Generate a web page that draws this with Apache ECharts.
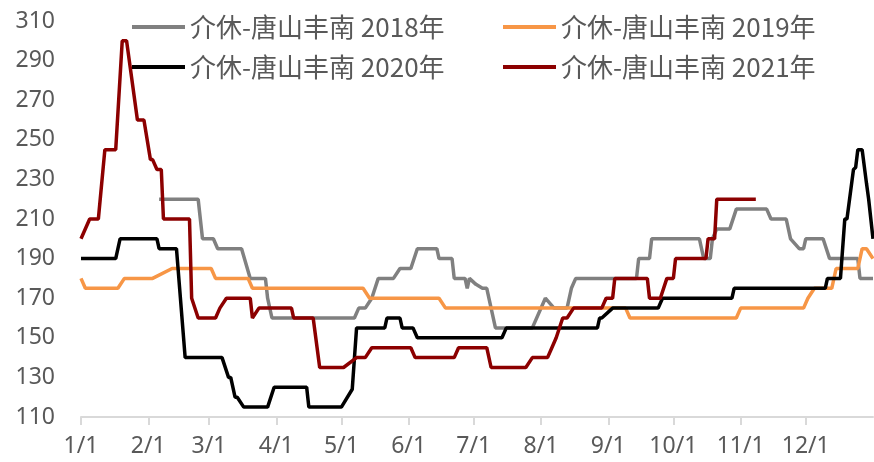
<!DOCTYPE html>
<html>
<head>
<meta charset="utf-8">
<script src="https://cdn.jsdelivr.net/npm/echarts@6/dist/echarts.min.js"></script>
<style>
  html, body { margin: 0; padding: 0; background: #fff; }
  #chart { width: 874px; height: 462px; }
</style>
</head>
<body>
<div id="chart"></div>
<script>
// day of year (0 = 1/1) and price, change points
const monthStarts = [0, 31, 59, 90, 120, 151, 181, 212, 243, 273, 304, 334]
const monthLabels = ['1/1', '2/1', '3/1', '4/1', '5/1', '6/1', '7/1', '8/1', '9/1', '10/1', '11/1', '12/1']
const yTicks = [110, 130, 150, 170, 190, 210, 230, 250, 270, 290, 310]

const names = ['介休-唐山丰南 2018年', '介休-唐山丰南 2019年', '介休-唐山丰南 2020年', '介休-唐山丰南 2021年']
const colors = ['#808080', '#f79646', '#000000', '#8c0000']

const s2018 = [[36, 220], [54, 220], [56, 200], [61, 200], [63, 195], [74, 195], [78, 180], [85, 180], [86, 170], [88, 160],
  [126, 160], [128, 165], [131, 165], [134, 170], [137, 180], [144, 180], [147, 185], [152, 185], [155, 195], [164, 195],
  [165, 190], [171, 190], [172, 180], [177, 180], [178, 175], [179, 180], [182, 177], [185, 175], [187, 175], [191, 155],
  [208, 155], [214, 170], [218, 165], [224, 165], [226, 175], [228, 180], [256, 180], [257, 190], [262, 190], [263, 200],
  [285, 200], [287, 190], [290, 190], [291, 200], [293, 205], [299, 205], [302, 215], [316, 215], [318, 210], [325, 210],
  [327, 200], [331, 195], [333, 195], [334, 200], [342, 200], [345, 190], [358, 190], [359, 180], [365, 180]]

const s2019 = [[0, 180], [2, 175], [17, 175], [20, 180], [33, 180], [42, 185], [60, 185], [62, 180], [77, 180], [79, 175],
  [130, 175], [133, 170], [165, 170], [168, 165], [251, 165], [253, 160], [302, 160], [304, 165], [333, 165], [335, 170],
  [338, 175], [346, 175], [348, 185], [358, 185], [360, 195], [362, 195], [365, 190]]

const s2020 = [[0, 190], [16, 190], [18, 200], [35, 200], [36, 195], [44, 195], [48, 140], [65, 140], [68, 130], [69, 130],
  [71, 120], [72, 120], [75, 115], [86, 115], [89, 125], [104, 125], [105, 115], [120, 115], [125, 124], [127, 155],
  [140, 155], [141, 160], [147, 160], [148, 155], [153, 155], [155, 150], [194, 150], [196, 155], [238, 155], [239, 160],
  [240, 160], [245, 165], [266, 165], [268, 170], [300, 170], [301, 175], [343, 175], [344, 180], [350, 180], [352, 210],
  [353, 210], [356, 235], [357, 236], [358, 245], [360, 245], [362, 228], [363, 220], [365, 200]]

const s2021 = [[0, 200], [4, 210], [8, 210], [11, 245], [16, 245], [19, 300], [21, 300], [26, 260], [29, 260], [32, 240],
  [33, 240], [35, 235], [37, 235], [38, 210], [50, 210], [51, 170], [54, 160], [62, 160], [64, 165], [67, 170], [78, 170],
  [79, 160], [82, 165], [97, 165], [98, 160], [107, 160], [110, 135], [121, 135], [127, 140], [131, 140], [134, 145],
  [152, 145], [154, 140], [172, 140], [174, 145], [187, 145], [189, 135], [205, 135], [208, 140], [215, 140], [217, 145],
  [219, 150], [222, 160], [224, 160], [227, 165], [240, 165], [242, 170], [245, 170], [246, 180], [261, 180], [262, 170],
  [267, 170], [270, 180], [273, 180], [274, 190], [288, 190], [289, 200], [292, 200], [293, 220], [311, 220]]

const seriesData = [s2018, s2019, s2020, s2021]

const chart = echarts.init(document.getElementById('chart'))

const legendBase = {
  orient: 'vertical',
  top: 7,
  icon: 'rect',
  itemWidth: 53,
  itemHeight: 4,
  itemGap: 10,
  textStyle: { color: '#595959', fontSize: 26, lineHeight: 30, fontFamily: 'Noto Sans CJK SC' }
}

chart.setOption({
  animation: false,
  textStyle: { fontFamily: 'Noto Sans' },
  legend: [
    Object.assign({ left: 127, data: [names[0], names[2]] }, legendBase),
    Object.assign({ left: 498, data: [names[1], names[3]] }, legendBase)
  ],
  grid: { left: 81, right: 1, top: 21, bottom: 45 },
  xAxis: {
    type: 'value',
    min: 0,
    max: 365,
    splitLine: { show: false },
    axisLine: { lineStyle: { color: '#d9d9d9', width: 2 } },
    axisTick: { show: true, customValues: monthStarts, length: 8, lineStyle: { color: '#d9d9d9', width: 2 } },
    axisLabel: {
      customValues: monthStarts,
      color: '#595959',
      fontSize: 23,
      margin: 18,
      formatter: (v) => monthLabels[monthStarts.indexOf(v)]
    }
  },
  yAxis: {
    type: 'value',
    min: yTicks[0],
    max: yTicks[yTicks.length - 1],
    interval: 20,
    splitLine: { show: false },
    axisLine: { show: false },
    axisTick: { show: false },
    axisLabel: { color: '#595959', fontSize: 23, margin: 26 }
  },
  series: seriesData.map((data, i) => ({
    name: names[i],
    type: 'line',
    data,
    symbol: 'none',
    color: colors[i],
    lineStyle: { color: colors[i], width: 3.5 }
  }))
})
</script>
</body>
</html>
